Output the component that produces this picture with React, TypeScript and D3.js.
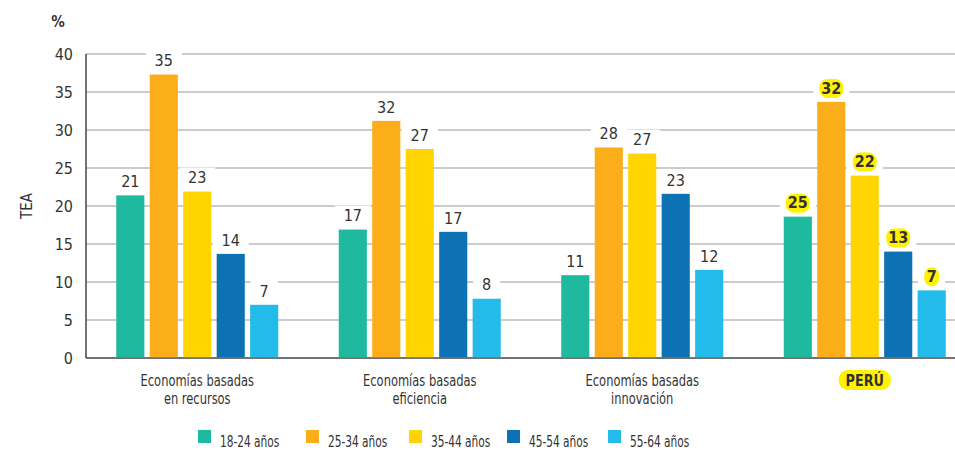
import React from "react";
import * as d3 from "d3";

const groups = ["Economías basadas|en recursos", "Economías basadas|eficiencia", "Economías basadas|innovación", "PERÚ"];
const series = ["18-24 años", "25-34 años", "35-44 años", "45-54 años", "55-64 años"];
const colors = ["#1fb9a0", "#fbad1a", "#ffd400", "#0d72b3", "#22bbea"];
// bar heights as drawn
const g1Values = [21.4, 37.3, 21.9, 13.7, 7.0];
const g2Values = [16.9, 31.2, 27.5, 16.6, 7.8];
const g3Values = [10.9, 27.7, 26.9, 21.6, 11.6];
const peruValues = [18.6, 33.7, 24.0, 14.0, 8.9];
// printed labels
const g1Labels = ["21", "35", "23", "14", "7"];
const g2Labels = ["17", "32", "27", "17", "8"];
const g3Labels = ["11", "28", "27", "23", "12"];
const peruLabels = ["25", "32", "22", "13", "7"];
const yTicks = [0, 5, 10, 15, 20, 25, 30, 35, 40];

const values = [g1Values, g2Values, g3Values, peruValues];
const labels = [g1Labels, g2Labels, g3Labels, peruLabels];

const FONT = "'DejaVu Sans Condensed', 'Liberation Sans Narrow', Arial, sans-serif";

export default function App() {
  const W = 955, H = 450;
  const x0 = d3.scaleBand().domain(groups).range([86, 976]).paddingInner(0).paddingOuter(0);
  const x1 = d3.scaleBand().domain(series).range([-81, 81]).paddingInner(0.16);
  const y = d3.scaleLinear().domain([0, 40]).range([358, 54]);
  const textCol = "#333";

  return (
    <svg width={W} height={H} style={{ position: "absolute", left: 0, top: 0, background: "#fff" }} fontFamily={FONT}>
      {yTicks.map((t) => (
        <line key={t} x1={86} x2={W} y1={y(t)} y2={y(t)} stroke={t === 0 ? "#444" : "#9a9a9a"} strokeWidth={t === 0 ? 1.5 : 1.2} />
      ))}
      <line x1={86} x2={86} y1={y(40)} y2={y(0)} stroke="#444" strokeWidth={1.5} />
      {yTicks.map((t) => (
        <text key={"l" + t} x={73} y={y(t)} dy="0.35em" textAnchor="end" fontSize={16} fill={textCol}>{t}</text>
      ))}
      <text x={58} y={27} textAnchor="middle" fontSize={15} fontWeight="bold" fill={textCol}>%</text>
      <text transform={`translate(27,${y(20)}) rotate(-90)`} textAnchor="middle" dy="0.35em" fontSize={15} fill={textCol}>TEA</text>

      {groups.map((g, gi) => {
        const cx = (x0(g) as number) + x0.bandwidth() / 2;
        const isPeru = gi === 3;
        const lines = g.split("|");
        return (
          <g key={g}>
            {series.map((s, si) => {
              const v = values[gi][si];
              const bx = cx + (x1(s) as number);
              const bw = x1.bandwidth();
              const lbl = labels[gi][si];
              const ly = y(v) - 14;
              const lw = lbl.length * 9 + 6;
              return (
                <g key={s}>
                  <rect x={bx} y={y(v)} width={bw} height={y(0) - y(v) - 0.8} fill={colors[si]} />
                  <rect x={bx + bw / 2 - lw / 2 - 6} y={ly - 10} width={lw + 12} height={20} fill="#fff" />
                  {isPeru && (
                    <rect x={bx + bw / 2 - lw / 2} y={ly - 9} width={lw} height={19} rx={8} fill="#fff200" />
                  )}
                  <text x={bx + bw / 2} y={ly} dy="0.36em" textAnchor="middle" fontSize={16} fontWeight={isPeru ? "bold" : "normal"} fill={textCol}>{lbl}</text>
                </g>
              );
            })}
            {isPeru && <rect x={cx - 26} y={370} width={52} height={20} rx={9} fill="#fff200" />}
            {lines.map((ln, li) => (
              <text key={li} transform={`translate(${cx},${386 + li * 18}) scale(${isPeru ? 0.95 : 0.85},1)`} textAnchor="middle" fontSize={isPeru ? 15 : 15} fontWeight={isPeru ? "bold" : "normal"} fill={textCol}>{ln}</text>
            ))}
          </g>
        );
      })}

      {series.map((s, i) => {
        const lx = [198, 306, 409, 507, 608][i];
        return (
          <g key={s}>
            <rect x={lx} y={430} width={13} height={13} fill={colors[i]} />
            <text transform={`translate(${lx + 22},447) scale(0.76,1)`} fontSize={15.5} fill={textCol}>{s}</text>
          </g>
        );
      })}
    </svg>
  );
}
